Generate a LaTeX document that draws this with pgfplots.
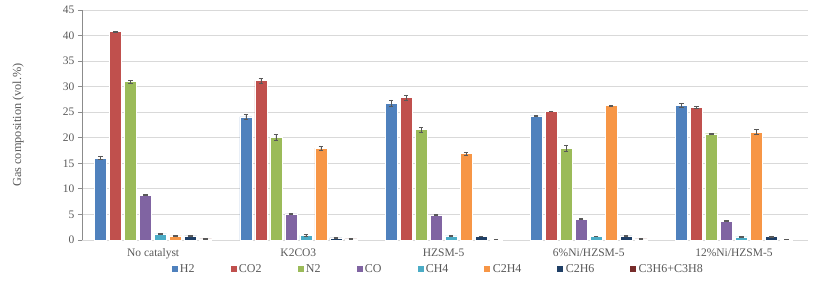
\documentclass[border=0pt]{standalone}
\usepackage{pgfplots}
\pgfplotsset{compat=1.18}
\usepackage{fontspec}
\setmainfont{Liberation Serif}
\definecolor{cH}{HTML}{4F81BD}
\definecolor{cCOt}{HTML}{C0504D}
\definecolor{cN}{HTML}{9BBB59}
\definecolor{cCO}{HTML}{8064A2}
\definecolor{cCH}{HTML}{4BACC6}
\definecolor{cCe}{HTML}{F79646}
\definecolor{cCa}{HTML}{1F3F66}
\definecolor{cCC}{HTML}{772C2A}
\definecolor{txt}{HTML}{595959}
\definecolor{gridc}{HTML}{D9D9D9}
\definecolor{axc}{HTML}{8C8C8C}
\begin{document}
\begin{tikzpicture}[x=1pt,y=1pt]
\path (-82,-50) rectangle (733,240);
\begin{axis}[
  at={(0,0)}, anchor=south west,
  scale only axis, width=726pt, height=230pt,
  ybar=3pt, bar width=12pt,
  xmin=-0.49, xmax=4.51, ymin=0, ymax=45,
  ytick={0,5,...,45},
  xtick={0,1,2,3,4},
  xticklabels={No catalyst,K2CO3,HZSM-5,6\%Ni/HZSM-5,12\%Ni/HZSM-5},
  axis x line*=bottom, axis y line*=left,
  x axis line style={gridc, line width=0.8pt, -},
  y axis line style={axc, line width=0.8pt, -},
  x tick style={draw=none},
  y tick style={axc, line width=0.8pt},
  tick align=outside, major tick length=4pt,
  ymajorgrids, grid style={gridc, line width=0.8pt},
  /pgf/number format/assume math mode=true,
  yticklabel style={font=\fontsize{11.5}{12}\selectfont, text=txt},
  xticklabel style={font=\fontsize{11.5}{12}\selectfont, text=txt, yshift=-1pt},
  ylabel={Gas composition (vol.\%)},
  ylabel style={at={(axis description cs:-0.088,0.5)}, anchor=center, font=\fontsize{12.3}{13}\selectfont, text=txt},
  legend columns=8,
  legend style={at={(0.49,-0.09)}, anchor=north, draw=none, fill=none,
    font=\fontsize{12}{13}\selectfont, text=txt,
    /tikz/every even column/.append style={column sep=33pt}},
  legend image code/.code={\fill[#1] (0pt,-2.5pt) rectangle (7pt,4.5pt);},
  error bars/y dir=both, error bars/y explicit,
  error bars/error bar style={black!65, line width=0.6pt},
  error bars/error mark options={rotate=90, mark size=2.2pt, black!65, line width=0.6pt},
]
\addplot[fill=cH, draw=white, line width=0.3pt] coordinates {(0,16.0) +- (0,0.3) (1,24.1) +- (0,0.4) (2,26.8) +- (0,0.6) (3,24.3) +- (0,0.1) (4,26.4) +- (0,0.4)};
\addplot[fill=cCOt, draw=white, line width=0.3pt] coordinates {(0,40.8) +- (0,0.1) (1,31.2) +- (0,0.5) (2,27.9) +- (0,0.5) (3,25.2) +- (0,0.05) (4,26.0) +- (0,0.2)};
\addplot[fill=cN, draw=white, line width=0.3pt] coordinates {(0,31.0) +- (0,0.3) (1,20.1) +- (0,0.5) (2,21.6) +- (0,0.5) (3,18.0) +- (0,0.6) (4,20.8) +- (0,0.1)};
\addplot[fill=cCO, draw=white, line width=0.3pt] coordinates {(0,8.8) +- (0,0.05) (1,5.1) +- (0,0.1) (2,4.9) +- (0,0.1) (3,4.1) +- (0,0.05) (4,3.7) +- (0,0.1)};
\addplot[fill=cCH, draw=white, line width=0.3pt] coordinates {(0,1.2) +- (0,0.15) (1,0.9) +- (0,0.15) (2,0.8) +- (0,0.05) (3,0.7) +- (0,0.05) (4,0.6) +- (0,0.05)};
\addplot[fill=cCe, draw=white, line width=0.3pt] coordinates {(0,0.8) +- (0,0.1) (1,18.0) +- (0,0.4) (2,16.9) +- (0,0.3) (3,26.3) +- (0,0.1) (4,21.1) +- (0,0.5)};
\addplot[fill=cCa, draw=white, line width=0.3pt] coordinates {(0,0.8) +- (0,0.05) (1,0.4) +- (0,0.05) (2,0.7) +- (0,0.05) (3,0.8) +- (0,0.05) (4,0.7) +- (0,0.1)};
\addplot[fill=cCC, draw=white, line width=0.3pt] coordinates {(0,0.2) +- (0,0.05) (1,0.2) +- (0,0.05) (2,0.1) +- (0,0.05) (3,0.2) +- (0,0.05) (4,0.1) +- (0,0.05)};
\legend{H2,CO2,N2,CO,CH4,C2H4,C2H6,C3H6+C3H8}
\end{axis}
\end{tikzpicture}
\end{document}
